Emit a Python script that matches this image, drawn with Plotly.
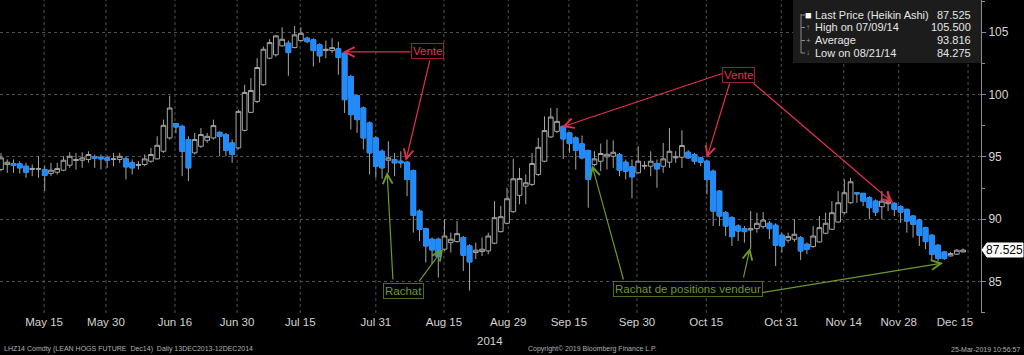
import plotly.graph_objects as go

# ---------------- data (Heikin Ashi candles, LHZ14) ----------------
OPEN = [93.99, 94.39, 94.47, 94.44, 94.25, 93.99, 94.01, 93.99, 93.67, 93.77,
        93.93, 94.33, 94.71, 94.73, 94.79, 95.00, 94.97, 94.92, 94.79, 94.79,
        94.84, 94.52, 94.31, 94.39, 94.65, 94.84, 95.45, 96.52, 97.67, 97.45,
        96.39, 95.32, 95.85, 96.33, 96.52, 96.97, 96.79, 96.12, 95.72, 97.13,
        98.57, 99.45, 100.79, 102.92, 103.19, 103.91, 104.12, 103.77, 104.33, 104.52,
        104.39, 103.99, 103.53, 103.53, 103.67, 103.32, 101.45, 99.91, 98.92, 97.72,
        96.52, 95.45, 94.73, 94.79, 94.65, 94.57, 93.90, 90.65, 89.24, 88.39,
        88.39, 87.59, 88.12, 88.20, 88.52, 87.85, 87.32, 87.40, 87.45, 88.07,
        89.00, 89.67, 90.60, 91.91, 92.65, 92.79, 93.59, 94.65, 96.60, 97.05,
        97.45, 96.92, 96.52, 96.04, 95.51, 94.39, 94.65, 95.00, 95.05, 95.19,
        94.57, 94.20, 93.72, 94.25, 94.25, 94.47, 94.25, 94.57, 94.92, 94.97,
        95.37, 95.19, 94.92, 94.65, 93.85, 92.25, 90.52, 90.12, 89.45, 89.24,
        89.13, 89.24, 89.40, 89.67, 89.51, 88.71, 88.31, 88.39, 88.52, 87.99,
        87.80, 88.17, 88.87, 89.19, 89.77, 90.52, 91.32, 92.12, 92.07, 91.72,
        91.45, 91.00, 91.24, 91.27, 91.00, 90.79, 90.25, 89.93, 89.32, 88.71,
        87.91, 87.37, 87.05, 87.19, 87.37]
HIGH = [95.32, 94.79, 94.79, 94.65, 94.52, 94.39, 95.05, 94.31, 94.52, 94.52,
        95.05, 95.37, 95.32, 95.37, 95.45, 95.19, 95.19, 95.11, 95.32, 95.32,
        95.05, 94.79, 94.65, 95.19, 95.72, 96.65, 97.99, 99.91, 97.72, 97.59,
        96.65, 96.92, 97.32, 96.92, 97.99, 97.05, 96.92, 96.39, 98.79, 100.79,
        101.32, 102.92, 103.85, 104.44, 104.79, 105.40, 104.33, 105.50, 105.40, 104.65,
        104.52, 104.12, 104.33, 104.52, 104.25, 103.40, 101.59, 99.99, 99.05, 97.85,
        96.65, 95.59, 96.25, 95.32, 95.45, 94.65, 93.99, 90.79, 89.32, 88.52,
        88.52, 89.99, 88.92, 89.85, 88.65, 87.99, 88.12, 88.52, 88.92, 91.45,
        91.05, 92.52, 94.84, 94.12, 93.59, 95.32, 96.52, 98.25, 98.92, 98.92,
        97.51, 96.97, 96.65, 96.71, 95.59, 95.45, 96.07, 96.39, 96.33, 95.32,
        94.79, 94.79, 95.85, 94.65, 95.45, 94.79, 96.12, 97.32, 95.45, 97.13,
        95.53, 95.32, 95.00, 94.79, 93.99, 92.33, 90.65, 90.25, 89.59, 89.45,
        90.65, 90.52, 90.57, 89.85, 89.67, 88.92, 88.92, 89.99, 88.65, 88.12,
        89.45, 90.25, 90.52, 91.45, 92.25, 93.19, 93.32, 92.17, 92.12, 91.85,
        91.59, 92.25, 92.25, 91.37, 91.11, 90.84, 90.31, 90.04, 89.40, 88.79,
        87.99, 87.45, 87.37, 87.59, 87.64]
LOW = [93.85, 93.72, 93.72, 93.67, 93.32, 93.45, 93.32, 92.25, 93.45, 93.59,
       93.85, 94.12, 93.99, 94.12, 94.52, 94.12, 93.99, 94.12, 94.25, 94.52,
       93.19, 93.59, 93.99, 94.25, 94.52, 94.79, 95.32, 96.39, 96.90, 93.45,
       93.05, 95.19, 95.72, 96.12, 96.39, 95.05, 95.05, 94.52, 95.59, 97.05,
       98.52, 99.32, 100.71, 102.84, 103.05, 103.85, 101.51, 103.72, 104.25, 104.12,
       102.25, 102.57, 102.92, 103.32, 101.59, 98.52, 97.19, 96.92, 95.59, 93.59,
       93.32, 93.24, 93.72, 93.45, 94.12, 91.85, 88.92, 88.25, 86.52, 86.39,
       85.32, 87.45, 87.32, 88.12, 85.85, 84.275, 86.79, 87.05, 87.19, 87.99,
       88.92, 89.59, 90.52, 91.19, 91.19, 92.65, 93.45, 94.57, 96.52, 96.92,
       94.84, 95.32, 93.99, 94.79, 90.92, 94.25, 93.85, 93.99, 94.12, 93.45,
       93.19, 91.67, 93.67, 93.99, 93.45, 92.52, 93.72, 94.12, 94.52, 94.12,
       94.84, 94.39, 94.25, 91.99, 89.45, 89.45, 88.65, 87.85, 88.25, 88.12,
       87.59, 88.92, 89.24, 88.39, 86.25, 87.32, 88.12, 88.17, 86.73, 87.19,
       87.72, 88.12, 88.79, 89.13, 89.72, 90.39, 91.24, 91.32, 91.05, 89.99,
       90.25, 89.99, 90.65, 90.25, 89.72, 88.92, 88.52, 87.85, 87.59, 86.65,
       86.65, 86.73, 87.00, 87.13, 87.32]
CLOSE = [94.92, 94.57, 94.31, 94.12, 93.77, 94.07, 94.05, 93.51, 93.93, 94.07,
         94.73, 95.05, 94.79, 94.92, 95.19, 94.89, 94.84, 94.73, 94.84, 95.05,
         94.20, 94.12, 94.39, 94.84, 95.19, 95.93, 97.53, 98.92, 97.40, 95.45,
         94.12, 96.39, 96.79, 96.65, 97.51, 96.65, 95.53, 95.19, 98.65, 100.17,
         100.33, 102.17, 103.64, 104.17, 104.71, 104.44, 103.37, 104.79, 104.92, 104.25,
         103.53, 103.11, 103.64, 103.77, 102.97, 99.59, 98.39, 97.99, 96.52, 95.32,
         94.25, 94.12, 94.92, 94.52, 94.52, 93.19, 90.31, 89.19, 87.85, 87.53,
         87.00, 88.65, 88.39, 88.84, 87.11, 86.57, 87.51, 87.59, 88.65, 90.12,
         90.20, 91.64, 93.24, 93.27, 92.92, 94.47, 95.77, 97.11, 98.20, 97.85,
         96.44, 96.07, 95.53, 94.92, 93.19, 94.84, 95.27, 95.21, 95.37, 93.93,
         93.85, 93.40, 94.65, 94.31, 94.65, 94.04, 94.84, 95.45, 95.00, 95.91,
         94.92, 94.65, 94.57, 93.19, 90.65, 90.25, 89.45, 88.60, 89.05, 89.00,
         89.24, 89.67, 89.93, 89.24, 87.91, 87.85, 88.60, 88.79, 87.45, 87.59,
         88.65, 89.32, 89.67, 90.52, 91.32, 92.12, 93.00, 92.04, 91.45, 90.92,
         90.57, 91.45, 91.40, 90.79, 90.57, 89.85, 89.59, 88.71, 88.20, 87.19,
         86.84, 86.84, 87.24, 87.51, 87.525]

DAY = list(range(len(CLOSE)))  # trading-day index of each candle

TICK_LABELS = ["May 15", "May 30", "Jun 16", "Jun 30", "Jul 15", "Jul 31", "Aug 15",
               "Aug 29", "Sep 15", "Sep 30", "Oct 15", "Oct 31", "Nov 14", "Nov 28", "Dec 15"]
TICK_POS = [6.9, 16.8, 27.85, 37.8, 47.9, 60.0, 70.9, 81.2, 90.9, 101.8, 112.9, 124.9, 134.9, 143.7, 152.7]
GRID_POS = [6.9, 16.8, 27.85, 37.8, 47.9, 60.0, 70.9, 81.2, 90.9, 101.8, 112.9, 124.9, 134.9, 143.7, 154.8]
Y_TICKS = [85, 90, 95, 100, 105]

LEGEND_ROWS = ["Last Price (Heikin Ashi)", "High on 07/09/14", "Average", "Low on 08/21/14"]
LEGEND_VALUES = ["87.525", "105.500", "93.816", "84.275"]

# ---------------- style ----------------
BLUE = "#1E8CFF"
GRAY = "#a6a6a6"
GRID = "#505050"
TXT = "#d4d4d4"
RED = "#e0304c"
RED_BOX = "#9c1f2e"
GREEN = "#6d9a25"
GREEN_BOX = "#4f6e1c"
FONT = "Liberation Sans, Arial, sans-serif"

X_RANGE = [-0.16, 156.87]
Y_RANGE = [82.47, 107.59]
PW, PH = 981.0, 313.0  # plot area in px

def px(xp):
    return xp / PW

def py(ypix):
    return 1 - ypix / PH

fig = go.Figure()

fig.add_trace(go.Candlestick(
    x=DAY, open=OPEN, high=HIGH, low=LOW, close=CLOSE,
    increasing=dict(line=dict(color=GRAY, width=1), fillcolor="black"),
    decreasing=dict(line=dict(color=GRAY, width=1), fillcolor=BLUE),
    whiskerwidth=0, showlegend=False, hoverinfo="skip"))

dec = [i for i in DAY if CLOSE[i] < OPEN[i]]
fig.add_trace(go.Candlestick(
    x=[DAY[i] for i in dec],
    open=[OPEN[i] for i in dec], high=[OPEN[i] for i in dec],
    low=[CLOSE[i] for i in dec], close=[CLOSE[i] for i in dec],
    increasing=dict(line=dict(color=BLUE, width=1), fillcolor=BLUE),
    decreasing=dict(line=dict(color=BLUE, width=1), fillcolor=BLUE),
    whiskerwidth=0, showlegend=False, hoverinfo="skip"))

shapes = []
annotations = []

# vertical dotted gridlines
for g in GRID_POS:
    shapes.append(dict(type="line", xref="x", yref="paper", x0=g, x1=g, y0=0, y1=1,
                       line=dict(color=GRID, width=1, dash="dot"), layer="below"))

# legend box
shapes.append(dict(type="rect", xref="paper", yref="paper", x0=px(793), x1=1.0, y0=py(63), y1=1.0,
                   fillcolor="#1c1c1c", line=dict(width=0), layer="above"))
row_y = [15, 27.5, 40.5, 53]
shapes.append(dict(type="line", xref="paper", yref="paper", x0=px(801), x1=px(801), y0=py(14), y1=py(53),
                   line=dict(color="#8a8a8a", width=1), layer="above"))
icons = ["■", "↑", "+", "↓"]
icon_col = ["#ffffff", "#9a9a9a", "#9a9a9a", "#9a9a9a"]
icon_size = [11, 8, 8, 8]
for k, (lab, val) in enumerate(zip(LEGEND_ROWS, LEGEND_VALUES)):
    yy = py(row_y[k])
    shapes.append(dict(type="line", xref="paper", yref="paper", x0=px(801), x1=px(805), y0=yy, y1=yy,
                       line=dict(color="#8a8a8a", width=1), layer="above"))
    annotations.append(dict(xref="paper", yref="paper", x=px(808), y=yy, text=icons[k], showarrow=False,
                            xanchor="center", yanchor="middle",
                            font=dict(family=FONT, size=icon_size[k], color=icon_col[k])))
    annotations.append(dict(xref="paper", yref="paper", x=px(813), y=yy, text=lab, showarrow=False,
                            xanchor="left", yanchor="middle", font=dict(family=FONT, size=11, color="#e6e6e6")))
    annotations.append(dict(xref="paper", yref="paper", x=px(973), y=yy, text=val, showarrow=False,
                            xanchor="right", yanchor="middle", font=dict(family=FONT, size=11, color="#e6e6e6")))

# last price tag on the right axis
last = CLOSE[-1]
yc = (last - Y_RANGE[0]) / (Y_RANGE[1] - Y_RANGE[0])
hh = 7.0 / PH
shapes.append(dict(type="path", xref="paper", yref="paper",
                   path=f"M {px(982)},{yc} L {px(987)},{yc+hh} L {px(1023)},{yc+hh} L {px(1023)},{yc-hh} L {px(987)},{yc-hh} Z",
                   fillcolor="white", line=dict(color="white", width=1), layer="above"))
annotations.append(dict(xref="paper", yref="paper", x=px(1004), y=yc, text=f"{last:.3f}", showarrow=False,
                        xanchor="center", yanchor="middle", font=dict(family=FONT, size=12, color="black")))

# trade annotations
def arrow(x_head, y_head, x_tail, y_tail, color):
    annotations.append(dict(x=x_head, y=y_head, ax=x_tail, ay=y_tail, xref="x", yref="y",
                            axref="x", ayref="y", text="", showarrow=True, arrowhead=5,
                            arrowsize=1.6, arrowwidth=1.2, arrowcolor=color))

def label(x, y, text, color, border):
    annotations.append(dict(x=x, y=y, xref="x", yref="y", text=text, showarrow=False,
                            font=dict(family=FONT, size=11.5, color=color), bgcolor="black",
                            bordercolor=border, borderwidth=1, borderpad=1,
                            xanchor="center", yanchor="middle"))

# Vente 1
arrow(54.7, 103.42, 65.8, 103.42, RED)
arrow(64.8, 94.67, 68.7, 102.86, RED)
label(68.2, 103.5, "Vente", RED, RED_BOX)
# Vente 2
arrow(89.8, 97.40, 115.7, 101.73, RED)
arrow(113.0, 94.93, 116.7, 101.01, RED)
arrow(142.8, 91.30, 120.2, 101.01, RED)
label(118.0, 101.57, "Vente", RED, RED_BOX)
# Rachat
arrow(61.8, 93.79, 62.75, 85.04, GREEN)
arrow(70.75, 87.61, 66.75, 84.88, GREEN)
label(64.5, 84.25, "Rachat", GREEN, GREEN_BOX)
# Rachat de positions vendeur
arrow(94.6, 94.35, 99.7, 85.04, GREEN)
arrow(119.9, 87.69, 118.8, 85.2, GREEN)
arrow(150.8, 86.48, 121.3, 84.07, GREEN)
label(110.0, 84.4, "Rachat de positions vendeur", GREEN, GREEN_BOX)

# bottom texts
annotations.append(dict(xref="paper", yref="paper", x=px(490), y=py(341), text="2014", showarrow=False,
                        xanchor="center", yanchor="middle", font=dict(family=FONT, size=11.5, color=TXT)))
annotations.append(dict(xref="paper", yref="paper", x=px(2), y=py(349),
                        text="LHZ14 Comdty (LEAN HOGS FUTURE  Dec14)  Daily 13DEC2013-12DEC2014",
                        showarrow=False, xanchor="left", yanchor="middle",
                        font=dict(family=FONT, size=7, color="#b0b0b0")))
annotations.append(dict(xref="paper", yref="paper", x=px(592), y=py(349),
                        text="Copyright© 2019 Bloomberg Finance L.P.", showarrow=False,
                        xanchor="center", yanchor="middle", font=dict(family=FONT, size=7, color="#b0b0b0")))
annotations.append(dict(xref="paper", yref="paper", x=px(1022), y=py(349),
                        text="25-Mar-2019 10:56:57", showarrow=False,
                        xanchor="right", yanchor="middle", font=dict(family=FONT, size=7, color="#b0b0b0")))

fig.update_layout(
    width=1024, height=355,
    margin=dict(l=0, r=43, t=0, b=42),
    paper_bgcolor="black", plot_bgcolor="black",
    showlegend=False,
    boxgap=0.0, boxgroupgap=0.25,
    font=dict(family=FONT, color=TXT),
    shapes=shapes, annotations=annotations,
    xaxis=dict(range=X_RANGE, tickmode="array", tickvals=TICK_POS, ticktext=TICK_LABELS,
               showgrid=False, zeroline=False, showline=False, ticks="",
               tickfont=dict(size=11.5, color=TXT),
               rangeslider=dict(visible=False), fixedrange=True),
    yaxis=dict(range=Y_RANGE, side="right", tickmode="array", tickvals=Y_TICKS,
               showgrid=True, gridcolor=GRID, griddash="dot", gridwidth=1,
               zeroline=False, showline=True, linecolor="#8c8c8c", linewidth=1,
               ticks="outside", ticklen=4, tickcolor="#8c8c8c",
               minor=dict(ticks="outside", ticklen=3, dtick=2.5, tick0=82.5, tickcolor="#8c8c8c", showgrid=False),
               tickfont=dict(size=12, color=TXT), fixedrange=True),
)

fig.write_html("out.html")
